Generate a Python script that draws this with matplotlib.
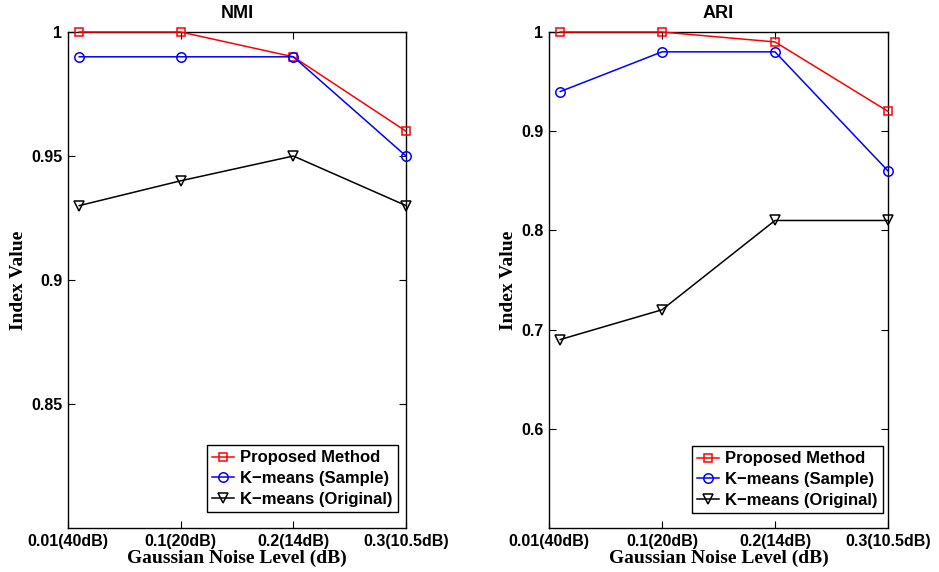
import numpy as np
import matplotlib
matplotlib.use('Agg')
import matplotlib.pyplot as plt

# data
noise_x = [0.01, 0.1, 0.2, 0.3]
tick_pos = [0, 0.1, 0.2, 0.3]
tick_labels = ['0.01(40dB)', '0.1(20dB)', '0.2(14dB)', '0.3(10.5dB)']
series_names = ['Proposed Method', 'K\u2212means (Sample)', 'K\u2212means (Original)']

nmi_proposed = [1.0, 1.0, 0.99, 0.96]
nmi_sample = [0.99, 0.99, 0.99, 0.95]
nmi_original = [0.93, 0.94, 0.95, 0.93]

ari_proposed = [1.0, 1.0, 0.99, 0.92]
ari_sample = [0.94, 0.98, 0.98, 0.86]
ari_original = [0.69, 0.72, 0.81, 0.81]

nmi_yticks = [0.85, 0.9, 0.95, 1.0]
nmi_yticklabels = ['0.85', '0.9', '0.95', '1']
ari_yticks = [0.6, 0.7, 0.8, 0.9, 1.0]
ari_yticklabels = ['0.6', '0.7', '0.8', '0.9', '1']

styles = [
    dict(color='#ff0000', marker='s', markersize=5.5),
    dict(color='#0000ff', marker='o', markersize=6.8),
    dict(color='#000000', marker='v', markersize=7),
]

sans = ['Liberation Sans', 'DejaVu Sans']
serif = ['Liberation Serif', 'DejaVu Serif']

fig = plt.figure(figsize=(9.39, 5.72), dpi=100)
fig.patch.set_facecolor('white')

W, H = 939.0, 572.0
ax1 = fig.add_axes([68 / W, 1 - 528 / H, 338 / W, 496 / H])
ax2 = fig.add_axes([549 / W, 1 - 528 / H, 339 / W, 496 / H])


def draw_panel(ax, data, title, ylim, yticks, yticklabels, leg_anchor):
    for vals, name, st in zip(data, series_names, styles):
        ax.plot(noise_x, vals, label=name, linewidth=1.1, clip_on=False, zorder=5,
                markerfacecolor='none', markeredgewidth=1.1, **st)
    ax.set_xlim(0, 0.3)
    ax.set_ylim(*ylim)
    ax.set_xticks(tick_pos)
    ax.set_xticklabels(tick_labels, fontfamily=sans, fontweight='bold', fontsize=11.5)
    ax.set_yticks(yticks)
    ax.set_yticklabels(yticklabels, fontfamily=sans, fontweight='bold', fontsize=11.5)
    ax.tick_params(direction='in', top=True, right=True, length=5, width=0.8, pad=4)
    for sp in ax.spines.values():
        sp.set_linewidth(1.0)
    ax.set_title(title, fontfamily=sans, fontweight='bold', fontsize=13, pad=10)
    ax.set_xlabel('Gaussian Noise Level (dB)', fontfamily=serif, fontweight='bold',
                  fontsize=14, labelpad=1)
    ax.set_ylabel('Index Value', fontfamily=serif, fontweight='bold', fontsize=14,
                  labelpad=3)
    leg = ax.legend(loc='lower right', bbox_to_anchor=leg_anchor, borderaxespad=0,
                    fancybox=False, edgecolor='black', framealpha=1,
                    prop=dict(family=sans, weight='bold', size=12),
                    handlelength=1.3, handletextpad=0.4, labelspacing=0.35,
                    borderpad=0.3)
    leg.get_frame().set_linewidth(1.0)


draw_panel(ax1, [nmi_proposed, nmi_sample, nmi_original], 'NMI', (0.8, 1.0),
           nmi_yticks, nmi_yticklabels, (0.976, 0.032))
draw_panel(ax2, [ari_proposed, ari_sample, ari_original], 'ARI', (0.5, 1.0),
           ari_yticks, ari_yticklabels, (0.985, 0.030))

fig.savefig('out.png', dpi=100)
